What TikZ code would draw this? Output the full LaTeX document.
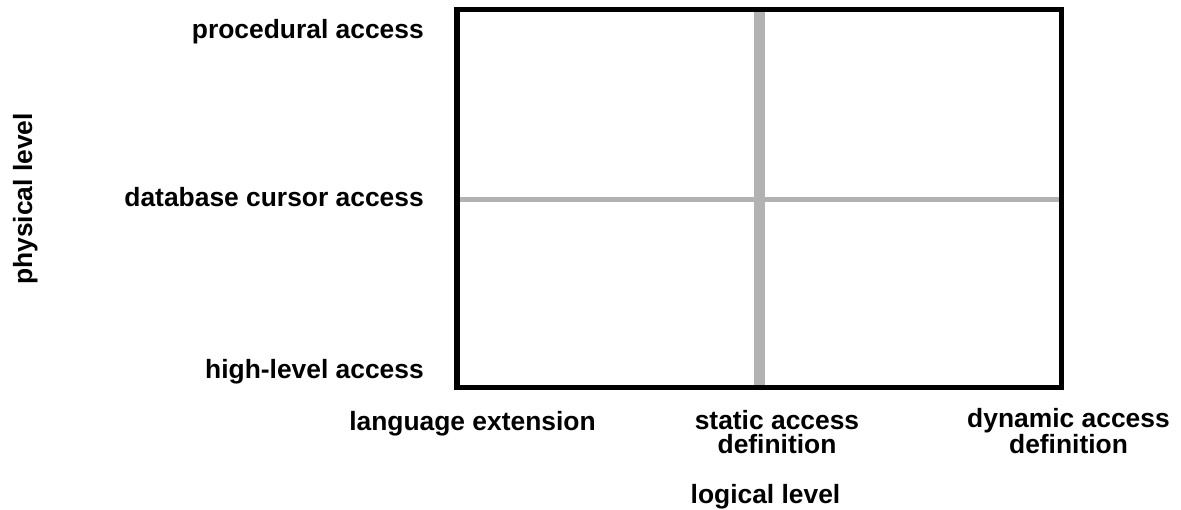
\documentclass[tikz,border=0pt]{standalone}
\usepackage{fontspec}
\setmainfont{Liberation Sans}
\begin{document}
\begin{tikzpicture}[x=1pt,y=-1pt,
  lbl/.style={inner sep=0pt,font=\fontsize{26.4}{23.5}\selectfont\bfseries},
  divider/.style={draw=black!30},
  frame/.style={draw=black,line width=5.5pt}]
\useasboundingbox (0,0) rectangle (1181,509);

% quadrant grid
\coordinate (ftl) at (457,9.5);
\coordinate (fbr) at (1061.5,387.5);
\draw[divider,line width=11pt] (759.5,12) -- (759.5,385);
\draw[divider,line width=5pt] (460,199) -- (1059,199);
\draw[frame] (ftl) rectangle (fbr);

% physical axis
\node[lbl,anchor=base east] (proc) at (424,38) {procedural access};
\node[lbl,anchor=base east] (cursor) at (424,206) {database cursor access};
\node[lbl,anchor=base east] (high) at (424,378) {high-level access};
\node[lbl,rotate=90,anchor=base] (phys) at (32,199) {physical level};

% logical axis (base anchor of a two-line label sits on its last line)
\node[lbl,anchor=base] (lang) at (472.5,430) {language extension};
\node[lbl,anchor=base,align=center] (static) at (777,453) {static access\\definition};
\node[lbl,anchor=base,align=center] (dyn) at (1068.5,453) {dynamic access\\definition};
\node[lbl,anchor=base] (logic) at (765.5,503) {logical level};
\end{tikzpicture}
\end{document}
